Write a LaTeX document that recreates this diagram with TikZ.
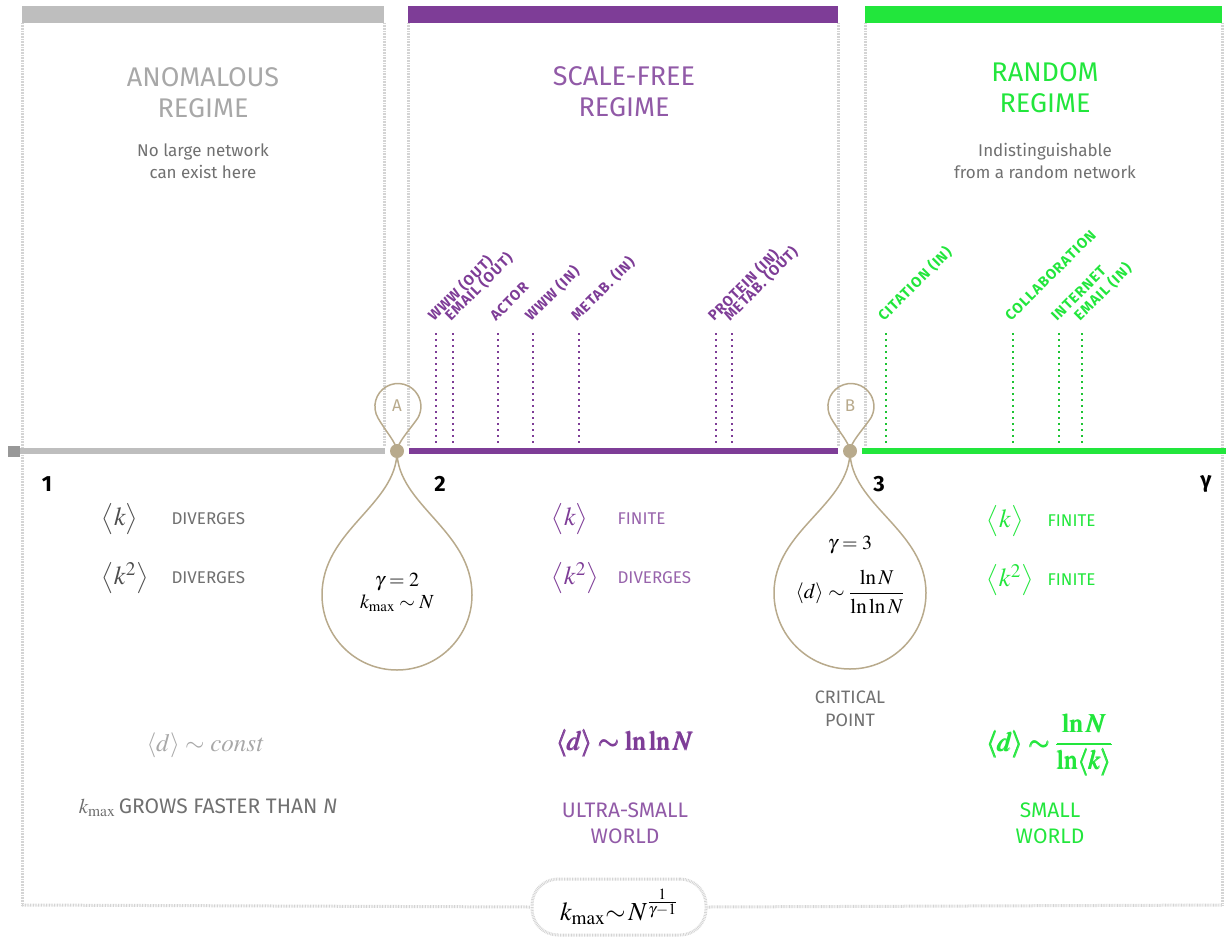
\documentclass[tikz,border=0pt]{standalone}
\usepackage{mathptmx}
\usepackage[no-math]{fontspec}
\usepackage{amsmath}
\setmainfont{Fira Sans}
\newfontfamily\tagfont[LetterSpace=7]{Fira Sans}

\begin{document}
\begin{tikzpicture}[x=1pt, y=-1pt,
    regime/.style={font=\fontsize{27}{31}\selectfont, align=center},
    note/.style={font=\fontsize{17}{22}\selectfont, align=center, text=noteGray},
    tag/.style={font=\tagfont\bfseries\fontsize{14.5}{14.5}\selectfont, rotate=45, anchor=base west, inner sep=0pt},
    border/.style={draw=borderGray, line width=3pt, dash pattern=on 0.8pt off 0.8pt},
    marker/.style={line width=1.6pt, dash pattern=on 1.6pt off 4.4pt},
    balloon/.style={draw=tanGray, line width=1.5pt},
    axislabel/.style={font=\bfseries\fontsize{22}{22}\selectfont},
    kmath/.style={font=\fontsize{26}{26}\selectfont},
    word/.style={font=\fontsize{17}{17}\selectfont, anchor=west},
    caption/.style={font=\fontsize{21}{26}\selectfont, align=center}]
    \definecolor{barGray}{HTML}{BEBEBE}
    \definecolor{borderGray}{HTML}{D4D4D4}
    \definecolor{noteGray}{HTML}{707070}
    \definecolor{titleGray}{HTML}{A8A8A8}
    \definecolor{sfPurple}{HTML}{7E3D97}
    \definecolor{rdGreen}{HTML}{22E63C}
    \definecolor{tanGray}{HTML}{B8AA8C}

    \useasboundingbox (0,0) rectangle (1226,948);

    % Draw top bars
    \fill[barGray] (22,6) rectangle (384,23);
    \fill[sfPurple] (408,6) rectangle (838,23);
    \fill[rdGreen] (865,6) rectangle (1222,23);

    % Draw region borders
    \draw[border] (22,23) -- (22,905);
    \draw[border] (1222,23) -- (1222,905);
    \foreach \x in {384,408,838,865}
        \draw[border] (\x,23) -- (\x,446);

    % Regime titles
    \node[regime, text=titleGray] (tanom) at (203,93) {ANOMALOUS\\REGIME};
    \node[note] (nanom) at (203,161) {No large network\\can exist here};
    \node[regime, text=sfPurple!85] (tsf) at (624,92) {SCALE-FREE\\REGIME};
    \node[regime, text=rdGreen] (trd) at (1045,88) {RANDOM\\REGIME};
    \node[note] (nrd) at (1045,161) {Indistinguishable\\from a random network};

    % Draw axis
    \fill[barGray!80!black] (8,446) rectangle (20,457);
    \draw[barGray, line width=6pt] (20,451) -- (385,451);
    \draw[sfPurple, line width=6pt] (409,451) -- (838,451);
    \draw[rdGreen, line width=6pt] (862,451) -- (1226,451);

    % Networks on the axis
    \foreach \x/\lbl in {436/WWW (OUT), 453/EMAIL (OUT), 498/ACTOR, 533/WWW (IN),
        579/METAB. (IN), 716/PROTEIN (IN), 732/METAB. (OUT)}
    {
        \draw[marker, sfPurple] (\x,333) -- (\x,446);
        \node[tag, text=sfPurple] (p\x) at (\x-2,322) {\lbl};
    }
    \foreach \x/\lbl in {886/CITATION (IN), 1013/COLLABORATION, 1059/INTERNET, 1082/EMAIL (IN)}
    {
        \draw[marker, rdGreen!85!black] (\x,333) -- (\x,446);
        \node[tag, text=rdGreen] (g\x) at (\x-2,322) {\lbl};
    }

    % Axis labels
    \node[axislabel] (one) at (47,484) {1};
    \node[axislabel] (two) at (440,484) {2};
    \node[axislabel] (three) at (879,484) {3};
    \node[axislabel] (gam) at (1206,484) {γ};

    % Balloon A
    \coordinate (ja) at (397,451);
    \draw[balloon] (ja) .. controls (396,442) and (386,432) .. (378,418)
        arc[start angle=150, end angle=390, radius=23]
        .. controls (408,432) and (398,442) .. (ja);
    \draw[balloon] (ja) .. controls (397,505) and (322,530) .. (322,595)
        arc[start angle=180, end angle=0, radius=75]
        .. controls (472,530) and (397,505) .. (ja);
    \fill[tanGray] (ja) circle (7);
    \node[text=tanGray, font=\fontsize{17}{17}\selectfont] (la) at (397,406) {A};
    \node[font=\fontsize{20}{26}\selectfont, align=center] (ga) at (397,592)
        {$\gamma = 2$\\[-4pt]$k_{\max}\sim N$};

    % Balloon B
    \coordinate (jb) at (850,451);
    \draw[balloon] (jb) .. controls (849,442) and (839,432) .. (831,418)
        arc[start angle=150, end angle=390, radius=23]
        .. controls (861,432) and (851,442) .. (jb);
    \draw[balloon] (jb) .. controls (850,505) and (774,530) .. (774,593)
        arc[start angle=180, end angle=0, radius=76]
        .. controls (926,530) and (850,505) .. (jb);
    \fill[tanGray] (jb) circle (7);
    \node[text=tanGray, font=\fontsize{17}{17}\selectfont] (lb) at (850,406) {B};
    \node[font=\fontsize{20}{20}\selectfont] (gb) at (850,545) {$\gamma = 3$};
    \node[font=\fontsize{21}{21}\selectfont] (db) at (850,592)
        {$\langle d\rangle\sim\dfrac{\ln N}{\ln\ln N}$};
    \node[note, font=\fontsize{18}{23}\selectfont] (crit) at (850,709) {CRITICAL\\POINT};

    % Anomalous regime moments
    \node[kmath, text=noteGray!70!black] (kl) at (120,519) {$\bigl\langle k\bigr\rangle$};
    \node[word, text=noteGray] (kld) at (168,519) {DIVERGES};
    \node[kmath, text=noteGray!70!black] (kkl) at (125,578) {$\bigl\langle k^2\bigr\rangle$};
    \node[word, text=noteGray] (kkld) at (168,578) {DIVERGES};

    % Scale-free regime moments
    \node[kmath, text=sfPurple] (km) at (570,519) {$\bigl\langle k\bigr\rangle$};
    \node[word, text=sfPurple!80] (kmd) at (614,519) {FINITE};
    \node[kmath, text=sfPurple] (kkm) at (575,578) {$\bigl\langle k^2\bigr\rangle$};
    \node[word, text=sfPurple!80] (kkmd) at (614,578) {DIVERGES};

    % Random regime moments
    \node[kmath, text=rdGreen] (kr) at (1005,521) {$\bigl\langle k\bigr\rangle$};
    \node[word, text=rdGreen] (krd) at (1044,521) {FINITE};
    \node[kmath, text=rdGreen] (kkr) at (1010,580) {$\bigl\langle k^2\bigr\rangle$};
    \node[word, text=rdGreen] (kkrd) at (1044,580) {FINITE};

    % Distances
    \node[kmath, text=titleGray, font=\fontsize{25}{25}\selectfont] (dl) at (205,745)
        {$\langle d\rangle\sim \mathit{const}$};
    \node[caption, text=noteGray] (gl) at (208,808) {$k_{\max}$\,GROWS FASTER THAN \textit{N}};
    \node[kmath, text=sfPurple, font=\fontsize{27}{27}\selectfont] (dm) at (625,743)
        {$\pmb{\langle d\rangle\sim \ln\ln N}$};
    \node[caption, text=sfPurple!85] (wm) at (625,823) {ULTRA-SMALL\\WORLD};
    \node[kmath, text=rdGreen, font=\fontsize{27}{27}\selectfont] (dr) at (1050,745)
        {$\pmb{\langle d\rangle\sim\dfrac{\ln N}{\ln\langle k\rangle}}$};
    \node[caption, text=rdGreen] (wr) at (1050,823) {SMALL\\WORLD};

    % Bottom formula
    \node[border, rounded corners=26pt, minimum width=174pt, minimum height=56pt,
        font=\fontsize{26}{26}\selectfont] (kbox) at (619,907)
        {$k_{\max}{\sim}\, N^{\frac{1}{\gamma-1}}$};
    \draw[border] (22,905) -- (kbox.west);
    \draw[border] (kbox.east) -- (1222,905);

\end{tikzpicture}
\end{document}
